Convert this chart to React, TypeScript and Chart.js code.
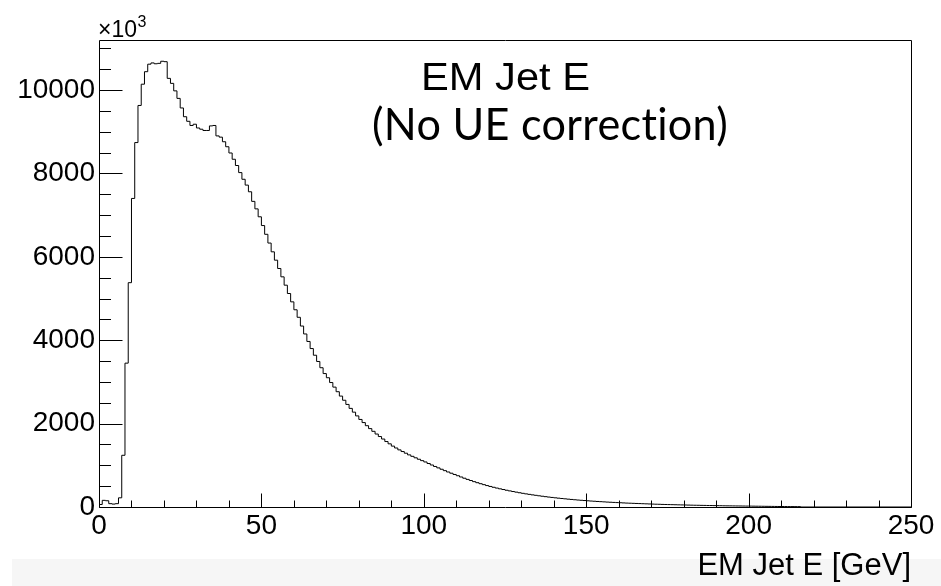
import React, { useEffect, useRef } from "react";
import { Chart, registerables } from "chart.js";

Chart.register(...registerables);

// Histogram: 1 GeV bins starting at 0 GeV (bin contents)
const binLowEdge = 0;
const binWidth = 1;
const binContents: number[] = [
  60, 160, 150, 80, 70, 80, 220, 1240, 3450, 5380,
  7400, 8740, 9630, 10140, 10440, 10620, 10650, 10630, 10640, 10690,
  10680, 10280, 10160, 9980, 9800, 9570, 9360, 9250, 9150, 9180,
  9090, 9060, 9030, 9030, 9140, 9150, 8900, 8870, 8760, 8640,
  8490, 8340, 8190, 8020, 7860, 7720, 7560, 7330, 7150, 6960,
  6750, 6540, 6330, 6120, 5920, 5720, 5520, 5320, 5120, 4920,
  4730, 4550, 4340, 4150, 3970, 3800, 3640, 3490, 3340, 3200,
  3100, 2985, 2875, 2765, 2660, 2560, 2460, 2365, 2275, 2185,
  2100, 2025, 1950, 1880, 1815, 1750, 1690, 1630, 1570, 1515,
  1460, 1415, 1370, 1330, 1290, 1250, 1215, 1180, 1145, 1112,
  1080, 1043, 1007, 972, 938, 905, 872, 840, 810, 780,
  750, 720, 690, 662, 635, 608, 583, 559, 536, 514,
  493, 473, 454, 436, 419, 402, 386, 371, 356, 342,
  328, 315, 303, 291, 280, 269, 258, 248, 238, 229,
  220, 212, 204, 196, 188, 181, 174, 167, 161, 155,
  149, 143, 138, 133, 128, 123, 118, 114, 110, 106,
  102, 98, 94, 91, 88, 85, 82, 79, 76, 73,
  70, 67, 65, 62, 60, 58, 56, 54, 52, 50,
  48, 46, 44, 42, 41, 39, 38, 36, 35, 33,
  32, 31, 29, 28, 27, 26, 25, 24, 23, 22,
  21, 20, 19, 18, 17, 16, 15, 14, 13, 12,
  12, 11, 10, 10, 9, 9,
];

// Axes
const xMin = 0;
const xMax = 250;
const yMin = 0;
const yMax = 11200;
const xLabelValues = [0, 50, 100, 150, 200, 250];
const xTickValues = [
  0, 10, 20, 30, 40, 50, 60, 70, 80, 90, 100, 110, 120, 130, 140, 150, 160,
  170, 180, 190, 200, 210, 220, 230, 240, 250,
];
const xMajorTickValues = [0, 50, 100, 150, 200, 250];
const yLabelValues = [0, 2000, 4000, 6000, 8000, 10000];
const yTickValues = [
  0, 500, 1000, 1500, 2000, 2500, 3000, 3500, 4000, 4500, 5000, 5500, 6000,
  6500, 7000, 7500, 8000, 8500, 9000, 9500, 10000, 10500, 11000,
];
const yMajorTickValues = [0, 2000, 4000, 6000, 8000, 10000];

const xAxisTitle = "EM Jet E [GeV]";
const exponentBase = "\u00d710";
const exponentPower = "3";
const annotationLine1 = "EM Jet E";
const annotationLine2 = "(No UE correction)";

const ROOT_FONT = '"Liberation Sans", Arial, Helvetica, sans-serif';

const rootFramePlugin = {
  id: "rootFrame",
  beforeDraw(chart: any) {
    const { ctx } = chart;
    ctx.save();
    ctx.fillStyle = "#f6f6f6";
    ctx.fillRect(12, 559, chart.width - 12, chart.height - 559);
    ctx.restore();
  },
  afterDraw(chart: any) {
    const { ctx, chartArea: a, scales } = chart;
    const xs = scales.x;
    const ys = scales.y;
    ctx.save();
    ctx.strokeStyle = "#000";
    ctx.lineWidth = 1;
    ctx.beginPath();
    ctx.rect(a.left + 0.5, a.top + 0.5, a.right - a.left, a.bottom - a.top);
    ctx.stroke();

    ctx.beginPath();
    for (const v of xTickValues) {
      const px = Math.round(xs.getPixelForValue(v)) + 0.5;
      const len = xMajorTickValues.includes(v) ? 14 : 7;
      ctx.moveTo(px, a.bottom + 0.5);
      ctx.lineTo(px, a.bottom + 0.5 - len);
    }
    for (const v of yTickValues) {
      const py = Math.round(ys.getPixelForValue(v)) + 0.5;
      const len = yMajorTickValues.includes(v) ? 23 : 11.5;
      ctx.moveTo(a.left + 0.5, py);
      ctx.lineTo(a.left + 0.5 + len, py);
    }
    ctx.stroke();

    // exponent label
    ctx.fillStyle = "#000";
    ctx.textBaseline = "alphabetic";
    ctx.textAlign = "left";
    ctx.font = `23px ${ROOT_FONT}`;
    ctx.fillText(exponentBase, a.left - 1, 37);
    const w = ctx.measureText(exponentBase).width;
    ctx.font = `16px ${ROOT_FONT}`;
    ctx.fillText(exponentPower, a.left - 1 + w + 0.5, 27);

    // annotations
    const drawFitted = (text: string, font: string, x: number, y: number, targetW: number) => {
      ctx.font = font;
      const mw = ctx.measureText(text).width;
      const s = targetW / mw;
      ctx.save();
      ctx.translate(x, y);
      ctx.scale(s, 1);
      ctx.fillText(text, 0, 0);
      ctx.restore();
    };
    drawFitted(annotationLine1, `39px ${ROOT_FONT}`, 421, 90, 169);
    try {
      (ctx as any).letterSpacing = "0.3px";
    } catch (e) {
      /* ignore */
    }
    drawFitted(annotationLine2, `45px Lato, "Open Sans", sans-serif`, 372, 140, 356);
    ctx.restore();
  },
};

export default function App() {
  const canvasRef = useRef<HTMLCanvasElement | null>(null);

  useEffect(() => {
    document.body.style.margin = "0";
    const canvas = canvasRef.current;
    if (!canvas) return;

    const points: { x: number; y: number }[] = [{ x: binLowEdge, y: 0 }];
    binContents.forEach((v, i) => points.push({ x: binLowEdge + i * binWidth, y: v }));
    points.push({ x: binLowEdge + binContents.length * binWidth, y: 0 });
    points.push({ x: xMax, y: 0 });

    const chart = new Chart(canvas, {
      type: "line",
      data: {
        datasets: [
          {
            data: points,
            stepped: "before",
            borderColor: "#000",
            borderWidth: 1,
            pointRadius: 0,
            fill: false,
            tension: 0,
          },
        ],
      },
      options: {
        animation: false,
        responsive: false,
        devicePixelRatio: 1,
        events: [],
        layout: { padding: { top: 40, right: 30, left: 0, bottom: 0 } },
        plugins: {
          legend: { display: false },
          tooltip: { enabled: false },
          title: { display: false },
        },
        scales: {
          x: {
            type: "linear",
            min: xMin,
            max: xMax,
            grid: { display: false, drawTicks: false },
            border: { display: false },
            afterBuildTicks: (scale: any) => {
              scale.ticks = xLabelValues.map((v) => ({ value: v }));
            },
            afterFit: (scale: any) => {
              scale.height = 79;
            },
            ticks: {
              padding: 2,
              maxRotation: 0,
              autoSkip: false,
              color: "#000",
              font: { family: ROOT_FONT, size: 28 },
              callback: (v: any) => String(v),
            },
            title: {
              display: true,
              text: xAxisTitle,
              align: "end",
              color: "#000",
              font: { family: ROOT_FONT, size: 31 },
              padding: { top: 0, bottom: 1 },
            },
          },
          y: {
            type: "linear",
            min: yMin,
            max: yMax,
            grid: { display: false, drawTicks: false },
            border: { display: false },
            afterBuildTicks: (scale: any) => {
              scale.ticks = yLabelValues.map((v) => ({ value: v }));
            },
            afterFit: (scale: any) => {
              scale.width = 99;
            },
            ticks: {
              padding: 4,
              autoSkip: false,
              color: "#000",
              font: { family: ROOT_FONT, size: 28 },
              callback: (v: any) => String(v),
            },
          },
        },
      },
      plugins: [rootFramePlugin],
    } as any);

    return () => chart.destroy();
  }, []);

  return (
    <div style={{ width: 941, height: 586, position: "relative", background: "#fff" }}>
      <canvas ref={canvasRef} width={941} height={586} style={{ display: "block" }} />
    </div>
  );
}
